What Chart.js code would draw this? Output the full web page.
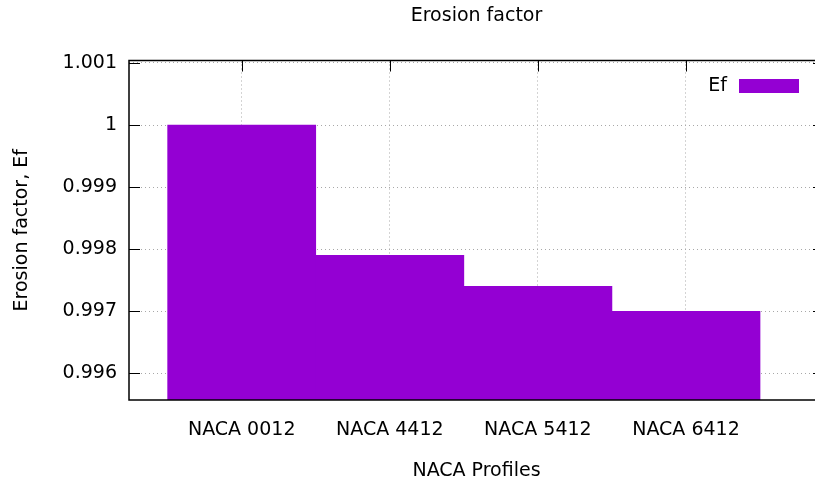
<!DOCTYPE html>
<html>
<head>
<meta charset="utf-8">
<script src="https://cdn.jsdelivr.net/npm/chart.js@4/dist/chart.umd.min.js"></script>
<style>
  html, body { margin: 0; padding: 0; background: #fff; overflow: hidden; }
  /* the plot frame runs a few pixels past the right edge of the window, as in the original */
  #wrap { width: 824px; height: 485px; }
</style>
</head>
<body>
<div id="wrap"><canvas id="efChart"></canvas></div>
<script>
// values
const profiles = ['NACA 0012', 'NACA 4412', 'NACA 5412', 'NACA 6412'];
const erosionFactor = [1.0, 0.9979, 0.9974, 0.997];
const yTicks = [0.996, 0.997, 0.998, 0.999, 1, 1.001];

const Y_MIN = 0.99557;
const Y_MAX = 1.00104;
const barColor = '#9400d3';

Chart.defaults.font.family = '"DejaVu Sans", sans-serif';
Chart.defaults.font.size = 19;
Chart.defaults.color = '#000';

// inward tick marks like gnuplot, drawn before the bars
const tickMarks = {
    id: 'tickMarks',
    beforeDatasetsDraw(chart) {
        const {ctx, chartArea: a, scales} = chart;
        const len = 11;
        ctx.save();
        ctx.strokeStyle = '#000';
        ctx.lineWidth = 1;
        ctx.beginPath();
        scales.x.ticks.forEach(t => {
            const px = Math.round(scales.x.getPixelForValue(t.value)) + 0.5;
            ctx.moveTo(px, a.top); ctx.lineTo(px, a.top + len);
            ctx.moveTo(px, a.bottom); ctx.lineTo(px, a.bottom - len);
        });
        scales.y.ticks.forEach(t => {
            const py = Math.round(scales.y.getPixelForValue(t.value)) + 0.5;
            ctx.moveTo(a.left, py); ctx.lineTo(a.left + len, py);
            ctx.moveTo(a.right, py); ctx.lineTo(a.right - len, py);
        });
        ctx.stroke();
        ctx.restore();
    },
    afterDatasetsDraw(chart) {
        const {ctx, chartArea: a} = chart;
        ctx.save();
        ctx.strokeStyle = '#000';
        ctx.lineWidth = 1.5;
        ctx.strokeRect(a.left, a.top, a.right - a.left, a.bottom - a.top);
        ctx.restore();
    }
};

// key in the upper right corner of the plot
const keyBox = {
    id: 'keyBox',
    afterDraw(chart) {
        const {ctx, chartArea: a} = chart;
        const ds = chart.data.datasets[0];
        const boxR = a.right - 25, boxL = boxR - 60, boxT = a.top + 18.5, boxH = 14;
        ctx.save();
        ctx.fillStyle = ds.backgroundColor;
        ctx.fillRect(boxL, boxT, boxR - boxL, boxH);
        ctx.font = '19px "DejaVu Sans", sans-serif';
        ctx.fillStyle = '#000';
        ctx.textAlign = 'right';
        ctx.textBaseline = 'middle';
        ctx.fillText(ds.label, boxL - 12, boxT + boxH / 2);
        ctx.restore();
    }
};

const ctx = document.getElementById('efChart').getContext('2d');

new Chart(ctx, {
    type: 'bar',
    data: {
        datasets: [{
            label: 'Ef',
            data: erosionFactor.map((v, i) => ({x: i, y: [Y_MIN, v]})),
            backgroundColor: barColor,
            borderWidth: 0,
            barPercentage: 1,
            categoryPercentage: 1
        }]
    },
    options: {
        responsive: true,
        maintainAspectRatio: false,
        animation: false,
        layout: { padding: 0 },
        plugins: {
            legend: { display: false },
            tooltip: { enabled: false }
        },
        scales: {
            x: {
                type: 'linear',
                position: 'bottom',
                offset: false,
                min: -0.761,
                max: 3.932,
                afterFit: s => { s.height = 85; },
                afterBuildTicks: s => { s.ticks = profiles.map((p, i) => ({value: i})); },
                ticks: {
                    padding: 19,
                    maxRotation: 0,
                    autoSkip: false,
                    callback: v => profiles[v]
                },
                grid: { color: '#a8a8a8', lineWidth: 1, drawTicks: false, offset: false },
                border: { display: false, dash: [1, 3] },
                title: {
                    display: true,
                    text: 'NACA Profiles',
                    padding: { top: 0, bottom: 3 }
                }
            },
            y: {
                type: 'linear',
                min: Y_MIN,
                max: Y_MAX,
                afterFit: s => { s.width = 129; },
                afterBuildTicks: s => { s.ticks = yTicks.map(v => ({value: v})); },
                ticks: {
                    padding: 12,
                    callback: v => String(Number(v.toFixed(3)))
                },
                grid: { color: '#a8a8a8', lineWidth: 1, drawTicks: false },
                border: { display: false, dash: [1, 3] },
                title: {
                    display: true,
                    text: 'Erosion factor, Ef',
                    padding: { top: 11, bottom: 0 }
                }
            },
            top: {
                type: 'linear',
                position: 'top',
                afterFit: s => { s.height = 60.5; },
                ticks: { display: false },
                grid: { display: false, drawTicks: false },
                border: { display: false },
                title: {
                    display: true,
                    text: 'Erosion factor',
                    padding: { top: 5, bottom: 0 }
                }
            }
        }
    },
    plugins: [tickMarks, keyBox]
});
</script>
</body>
</html>
